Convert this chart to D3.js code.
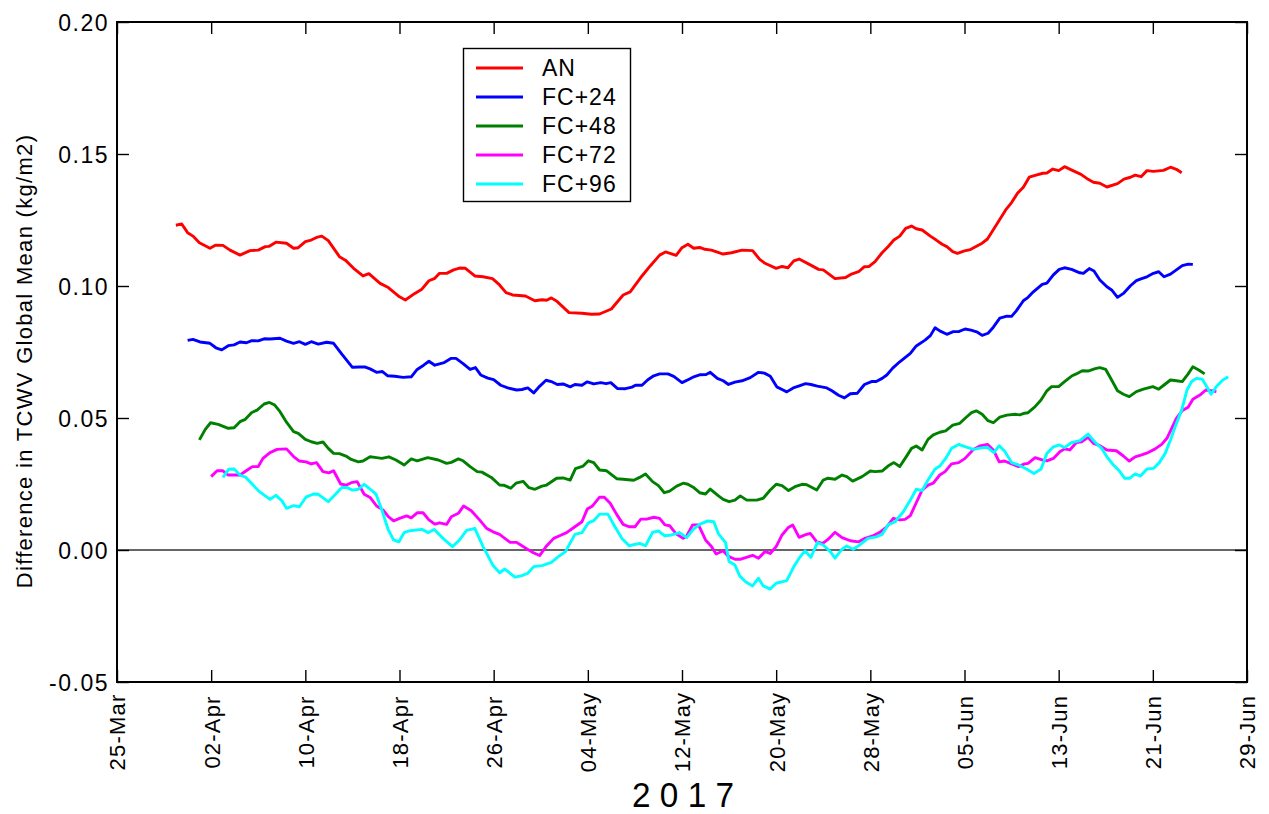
<!DOCTYPE html>
<html><head><meta charset="utf-8">
<script src="https://cdn.jsdelivr.net/npm/d3@7"></script>
<style>
html,body{margin:0;padding:0;background:#fff;}
svg{display:block;font-family:"Liberation Sans",Arial,sans-serif;}
</style></head><body>
<svg id="chart" width="1269" height="814"></svg>
<script>
// ---- data: [days since 2017-03-25, difference (kg/m2)] ----
const startDate = "2017-03-25";
const endDate = "2017-06-29";
const seriesNames = ["AN","FC+24","FC+48","FC+72","FC+96"];
const seriesColors = ["#ff0000","#0000ff","#008000","#ff00ff","#00ffff"];
const yTicks = [-0.05, 0.00, 0.05, 0.10, 0.15, 0.20];
const xTickLabels = ["25-Mar","02-Apr","10-Apr","18-Apr","26-Apr","04-May","12-May","20-May","28-May","05-Jun","13-Jun","21-Jun","29-Jun"];
const yearLabel = "2 0 1 7";
const yTitle = "Difference in TCWV Global Mean (kg/m2)";

const an = [[5.0,.1230],[5.5,.1235],[6.0,.1202],[6.45,.1189],[7.0,.1164],[7.9,.1143],[8.4,.1155],[9.0,.1154],[9.6,.1136],[10.45,.1117],[11.3,.1134],[12.0,.1136],[12.6,.1149],[12.9,.1150],[13.5,.1166],[14.4,.1162],[15.0,.1143],[15.4,.1145],[16.0,.1168],[16.5,.1174],[16.95,.1184],[17.4,.1189],[17.95,.1172],[18.9,.1111],[19.4,.1098],[20.1,.1067],[20.9,.1038],[21.4,.1047],[22.35,.1010],[23.05,.0994],[24.0,.0959],[24.5,.0947],[25.3,.0972],[25.9,.0988],[26.5,.1020],[27.0,.1029],[27.4,.1048],[28.0,.1048],[28.6,.1061],[29.1,.1068],[29.6,.1067],[30.4,.1038],[31.1,.1035],[31.9,.1028],[32.5,.1004],[33.05,.0975],[33.6,.0966],[34.7,.0962],[35.5,.0944],[36.1,.0948],[36.5,.0946],[36.9,.0955],[37.4,.0941],[38.4,.0899],[39.5,.0897],[40.3,.0893],[41.0,.0894],[42.0,.0913],[43.0,.0966],[43.6,.0978],[44.6,.1038],[45.3,.1076],[46.1,.1117],[46.6,.1129],[47.5,.1116],[48.0,.1145],[48.5,.1158],[49.0,.1143],[49.5,.1146],[49.95,.1139],[50.5,.1136],[51.5,.1121],[52.2,.1126],[53.1,.1136],[54.0,.1134],[54.6,.1101],[55.05,.1086],[56.0,.1067],[56.5,.1074],[57.0,.1069],[57.5,.1095],[57.95,.1102],[58.9,.1080],[59.6,.1063],[60.0,.1061],[61.0,.1028],[61.9,.1032],[62.4,.1045],[63.0,.1054],[63.5,.1073],[63.9,.1074],[64.4,.1092],[65.0,.1126],[65.5,.1149],[66.0,.1174],[66.5,.1189],[67.0,.1218],[67.5,.1227],[67.9,.1217],[68.4,.1212],[69.1,.1189],[69.6,.1174],[70.1,.1158],[70.5,.1149],[71.0,.1130],[71.4,.1124],[72.0,.1133],[72.5,.1138],[73.5,.1162],[73.95,.1178],[74.7,.1231],[75.5,.1288],[76.0,.1316],[76.5,.1351],[77.0,.1374],[77.5,.1412],[78.0,.1419],[78.65,.1427],[79.0,.1428],[79.5,.1443],[80.0,.1437],[80.5,.1452],[81.25,.1436],[81.9,.1423],[82.5,.1404],[82.95,.1393],[83.5,.1389],[84.1,.1375],[85.0,.1388],[85.55,.1405],[86.1,.1412],[86.5,.1420],[87.0,.1414],[87.5,.1437],[88.05,.1434],[88.9,.1438],[89.5,.1450],[90.0,.1442],[90.45,.1429]];

const fc24 = [[6.0,.0794],[6.45,.0798],[7.05,.0788],[7.9,.0783],[8.4,.0766],[8.9,.0758],[9.45,.0774],[9.95,.0777],[10.45,.0788],[11.0,.0785],[11.45,.0793],[12.0,.0792],[12.5,.0800],[13.0,.0799],[13.85,.0802],[14.4,.0791],[15.0,.0783],[15.5,.0789],[16.0,.0779],[16.5,.0789],[17.1,.0780],[17.8,.0787],[18.4,.0783],[19.1,.0742],[20.0,.0692],[20.6,.0693],[21.1,.0693],[21.5,.0686],[22.05,.0673],[22.55,.0676],[23.0,.0660],[23.6,.0658],[24.3,.0654],[25.0,.0656],[25.5,.0684],[26.05,.0700],[26.5,.0715],[27.0,.0700],[27.8,.0710],[28.4,.0726],[28.8,.0726],[29.4,.0706],[30.0,.0684],[30.45,.0691],[30.9,.0663],[31.5,.0651],[32.0,.0645],[32.6,.0624],[33.2,.0614],[33.95,.0606],[34.4,.0608],[34.9,.0614],[35.4,.0595],[35.9,.0620],[36.45,.0643],[36.9,.0638],[37.4,.0627],[37.9,.0629],[38.5,.0618],[38.9,.0627],[39.5,.0624],[39.95,.0637],[40.5,.0629],[41.1,.0634],[41.55,.0630],[41.95,.0634],[42.5,.0612],[43.2,.0611],[43.75,.0617],[44.05,.0624],[44.6,.0624],[45.1,.0645],[45.6,.0660],[46.1,.0667],[46.8,.0667],[47.3,.0658],[48.0,.0634],[48.6,.0647],[49.0,.0656],[49.55,.0664],[50.05,.0665],[50.4,.0673],[51.0,.0650],[51.5,.0641],[51.95,.0627],[52.5,.0636],[53.1,.0641],[53.8,.0653],[54.5,.0673],[55.0,.0670],[55.5,.0658],[56.05,.0618],[56.5,.0608],[56.9,.0599],[57.45,.0614],[57.9,.0621],[58.5,.0630],[58.95,.0627],[59.5,.0621],[60.3,.0614],[60.7,.0604],[61.3,.0586],[61.8,.0576],[62.3,.0592],[62.9,.0594],[63.5,.0627],[64.1,.0638],[64.5,.0638],[65.0,.0650],[65.4,.0663],[65.9,.0689],[66.5,.0713],[67.4,.0745],[67.9,.0773],[68.65,.0795],[69.1,.0812],[69.5,.0842],[69.9,.0830],[70.5,.0817],[71.05,.0827],[71.5,.0827],[72.05,.0837],[72.55,.0833],[73.1,.0825],[73.5,.0813],[74.0,.0821],[74.45,.0844],[75.0,.0878],[75.6,.0886],[76.0,.0885],[76.4,.0906],[77.0,.0944],[77.4,.0957],[77.85,.0978],[78.3,.0995],[78.6,.1006],[79.0,.1011],[79.55,.1042],[80.05,.1063],[80.5,.1069],[81.1,.1063],[81.8,.1050],[82.1,.1048],[82.6,.1066],[83.0,.1057],[83.5,.1023],[84.1,.0997],[84.5,.0985],[85.0,.0957],[85.5,.0972],[86.1,.1001],[86.6,.1020],[87.05,.1028],[87.5,.1035],[88.05,.1048],[88.5,.1054],[88.95,.1035],[89.5,.1045],[90.0,.1061],[90.5,.1077],[91.0,.1083],[91.4,.1082]];

const fc48 = [[7.0,.0417],[7.5,.0457],[7.95,.0482],[8.6,.0476],[9.45,.0461],[9.95,.0463],[10.45,.0486],[10.9,.0495],[11.45,.0521],[11.9,.0530],[12.5,.0553],[12.95,.0559],[13.4,.0549],[13.85,.0524],[14.4,.0484],[15.0,.0448],[15.4,.0442],[16.0,.0419],[16.5,.0410],[17.0,.0404],[17.5,.0409],[17.95,.0385],[18.4,.0366],[18.9,.0365],[19.45,.0356],[19.9,.0343],[20.5,.0334],[20.9,.0337],[21.5,.0353],[22.05,.0350],[22.5,.0347],[23.1,.0353],[23.7,.0341],[24.4,.0322],[25.0,.0345],[25.5,.0338],[26.4,.0350],[27.3,.0341],[28.0,.0328],[28.4,.0332],[29.0,.0345],[29.4,.0338],[30.0,.0316],[30.6,.0297],[31.0,.0295],[31.8,.0275],[32.5,.0246],[32.9,.0245],[33.45,.0234],[33.9,.0253],[34.5,.0260],[35.0,.0236],[35.5,.0230],[36.1,.0242],[36.5,.0246],[37.35,.0272],[37.9,.0273],[38.5,.0265],[38.95,.0308],[39.6,.0318],[40.05,.0338],[40.5,.0331],[41.0,.0303],[41.6,.0300],[42.45,.0270],[43.0,.0268],[43.9,.0264],[44.4,.0275],[44.9,.0288],[45.5,.0259],[46.0,.0244],[46.5,.0217],[46.95,.0223],[47.55,.0242],[48.1,.0253],[48.5,.0249],[48.95,.0238],[49.5,.0217],[50.0,.0212],[50.4,.0231],[51.1,.0205],[51.5,.0192],[52.0,.0183],[52.5,.0189],[52.95,.0205],[53.5,.0189],[54.35,.0189],[54.9,.0196],[55.5,.0227],[56.0,.0249],[56.5,.0244],[57.05,.0225],[57.6,.0240],[58.2,.0249],[58.6,.0247],[59.45,.0227],[60.0,.0265],[60.4,.0272],[61.0,.0268],[61.6,.0284],[62.0,.0278],[62.5,.0261],[63.3,.0278],[64.0,.0299],[64.4,.0297],[65.0,.0299],[65.5,.0318],[66.0,.0331],[66.5,.0316],[67.0,.0350],[67.5,.0385],[67.9,.0394],[68.4,.0379],[68.9,.0419],[69.35,.0436],[69.9,.0446],[70.4,.0451],[71.0,.0473],[71.6,.0480],[72.1,.0501],[72.6,.0520],[73.0,.0527],[73.5,.0514],[74.0,.0490],[74.45,.0482],[75.0,.0503],[75.6,.0511],[76.3,.0514],[76.7,.0512],[77.1,.0518],[77.4,.0520],[78.0,.0543],[78.5,.0568],[79.0,.0603],[79.4,.0619],[80.0,.0619],[80.5,.0638],[81.1,.0659],[81.5,.0667],[82.0,.0679],[82.5,.0678],[83.1,.0687],[83.5,.0691],[84.0,.0684],[84.5,.0644],[85.0,.0603],[85.5,.0590],[86.0,.0581],[86.6,.0600],[87.2,.0609],[88.0,.0619],[88.5,.0609],[88.95,.0625],[89.5,.0644],[90.0,.0641],[90.5,.0638],[91.0,.0667],[91.4,.0694],[91.9,.0682],[92.4,.0667]];

const fc72 = [[8.0,.0278],[8.5,.0300],[9.0,.0300],[9.45,.0284],[10.45,.0284],[10.95,.0299],[11.5,.0316],[12.0,.0316],[12.4,.0347],[13.0,.0369],[13.6,.0381],[14.4,.0383],[15.0,.0354],[15.5,.0337],[16.05,.0334],[16.5,.0326],[16.95,.0331],[17.5,.0297],[18.0,.0292],[18.4,.0300],[19.0,.0250],[19.5,.0246],[19.9,.0255],[20.4,.0259],[21.0,.0211],[21.5,.0199],[22.05,.0167],[22.6,.0152],[23.05,.0126],[23.5,.0110],[24.0,.0120],[24.6,.0129],[25.0,.0122],[25.5,.0141],[26.0,.0141],[26.5,.0114],[27.0,.0098],[27.4,.0103],[28.0,.0097],[28.4,.0126],[29.0,.0139],[29.45,.0167],[30.1,.0149],[30.8,.0114],[31.4,.0082],[31.95,.0069],[32.5,.0059],[33.4,.0029],[33.95,.0029],[34.5,.0013],[35.3,-.0009],[35.9,-.0021],[36.45,.0013],[37.1,.0044],[37.6,.0054],[38.2,.0066],[38.9,.0088],[39.5,.0107],[39.95,.0155],[40.4,.0167],[41.0,.0200],[41.4,.0200],[41.9,.0177],[42.45,.0135],[43.0,.0097],[43.5,.0088],[44.0,.0088],[44.5,.0117],[45.0,.0117],[45.6,.0124],[46.1,.0120],[46.55,.0095],[46.95,.0092],[47.5,.0061],[48.1,.0044],[48.4,.0053],[48.9,.0095],[49.4,.0095],[50.0,.0038],[50.5,.0013],[50.9,-.0015],[51.5,-.0003],[51.9,-.0023],[52.5,-.0035],[53.0,-.0035],[54.0,-.0020],[54.5,-.0031],[55.05,-.0006],[55.5,-.0013],[56.0,.0013],[56.5,.0057],[57.0,.0084],[57.4,.0095],[57.95,.0048],[58.45,.0057],[58.9,.0063],[59.45,.0031],[59.95,.0025],[60.4,.0040],[61.0,.0067],[61.6,.0047],[62.3,.0035],[63.0,.0031],[63.55,.0044],[64.2,.0053],[64.8,.0067],[65.4,.0088],[65.95,.0120],[66.5,.0114],[66.95,.0116],[67.4,.0130],[67.9,.0179],[68.4,.0227],[68.9,.0246],[69.35,.0253],[69.9,.0284],[70.35,.0297],[70.9,.0326],[71.5,.0331],[72.05,.0347],[72.75,.0381],[73.3,.0394],[73.95,.0400],[74.45,.0379],[74.95,.0334],[75.4,.0337],[76.0,.0326],[76.6,.0316],[77.1,.0326],[77.4,.0328],[78.0,.0350],[78.6,.0341],[79.0,.0338],[79.55,.0347],[80.1,.0372],[80.5,.0383],[80.95,.0379],[81.5,.0407],[81.95,.0410],[82.5,.0427],[82.95,.0404],[83.5,.0395],[84.1,.0379],[84.9,.0376],[85.5,.0356],[86.0,.0337],[86.5,.0353],[87.05,.0360],[87.6,.0369],[88.2,.0383],[88.75,.0400],[89.2,.0423],[89.6,.0461],[90.0,.0499],[90.5,.0528],[91.0,.0541],[91.4,.0571],[92.0,.0587],[92.5,.0606],[92.95,.0603],[93.4,.0600]];

const fc96 = [[9.0,.0275],[9.5,.0306],[9.95,.0307],[10.45,.0284],[10.95,.0275],[11.5,.0249],[12.1,.0221],[13.0,.0192],[13.5,.0207],[14.0,.0187],[14.4,.0158],[15.0,.0168],[15.5,.0164],[16.05,.0200],[16.7,.0212],[17.1,.0211],[17.95,.0183],[18.5,.0208],[19.1,.0237],[19.5,.0237],[20.0,.0227],[20.5,.0230],[21.0,.0249],[21.5,.0231],[22.0,.0212],[22.5,.0152],[23.05,.0076],[23.5,.0038],[23.95,.0031],[24.4,.0066],[24.9,.0073],[25.9,.0078],[26.45,.0066],[26.95,.0078],[27.7,.0044],[28.5,.0013],[29.1,.0038],[29.7,.0074],[30.4,.0082],[31.1,.0013],[31.95,-.0059],[32.5,-.0086],[32.95,-.0072],[33.8,-.0103],[34.4,-.0097],[34.9,-.0088],[35.4,-.0063],[36.1,-.0059],[36.9,-.0047],[37.5,-.0025],[38.1,-.0006],[38.9,.0059],[39.5,.0066],[40.05,.0103],[40.5,.0111],[41.0,.0136],[41.7,.0136],[42.3,.0088],[42.9,.0044],[43.5,.0016],[44.4,.0025],[44.9,.0016],[45.5,.0067],[46.0,.0072],[46.5,.0054],[47.1,.0057],[47.8,.0066],[48.4,.0047],[48.95,.0078],[49.5,.0097],[50.2,.0110],[50.7,.0107],[51.1,.0061],[51.7,.0028],[52.0,-.0044],[52.5,-.0057],[52.9,-.0098],[53.4,-.0120],[54.0,-.0136],[54.5,-.0107],[54.9,-.0136],[55.5,-.0148],[56.0,-.0126],[56.9,-.0116],[57.5,-.0063],[57.95,-.0031],[58.45,-.0003],[58.95,-.0028],[59.5,.0028],[60.0,.0019],[60.6,-.0006],[61.0,-.0031],[61.6,.0003],[62.0,.0015],[62.55,.0003],[63.1,.0019],[63.8,.0044],[64.5,.0050],[65.0,.0059],[65.5,.0095],[66.1,.0107],[66.8,.0145],[67.4,.0189],[67.9,.0230],[68.4,.0225],[68.9,.0265],[69.5,.0307],[69.9,.0318],[70.4,.0347],[70.9,.0385],[71.5,.0400],[72.1,.0391],[72.75,.0381],[73.3,.0386],[73.95,.0389],[74.5,.0369],[74.95,.0395],[75.4,.0375],[76.0,.0331],[76.6,.0322],[77.3,.0306],[77.9,.0290],[78.5,.0307],[79.0,.0366],[79.55,.0391],[80.05,.0398],[80.5,.0388],[81.1,.0407],[81.8,.0414],[82.5,.0439],[83.1,.0408],[83.65,.0385],[84.1,.0353],[84.65,.0322],[85.15,.0300],[85.6,.0272],[86.05,.0272],[86.5,.0288],[86.95,.0280],[87.5,.0307],[88.05,.0309],[88.55,.0331],[89.05,.0366],[89.5,.0417],[89.95,.0473],[90.45,.0530],[90.9,.0606],[91.3,.0638],[91.7,.0650],[92.2,.0647],[92.5,.0625],[92.95,.0590],[93.4,.0619],[93.95,.0644],[94.4,.0656]];

const allSeries = [an, fc24, fc48, fc72, fc96];

// ---- drawing ----
const m = {left:117, right:1247, top:22, bottom:682};
const svg = d3.select("#chart");
const FONT = "'Liberation Sans', Arial, sans-serif";
const parse = d3.timeParse("%Y-%m-%d");
const t0 = parse(startDate), t1 = parse(endDate);
const toDate = d => d3.timeMinute.offset(t0, Math.round(d*1440));

const x = d3.scaleTime().domain([t0, t1]).range([m.left, m.right]);
const y = d3.scaleLinear().domain([-0.05, 0.20]).range([m.bottom, m.top]);
const xTickDates = xTickLabels.map((_, i) => d3.timeDay.offset(t0, 8*i));
const yFmt = d => d3.format(".2f")(d).replace("\u2212", "-");

// zero line
svg.append("line").attr("x1", m.left).attr("x2", m.right)
  .attr("y1", y(0)).attr("y2", y(0))
  .attr("stroke", "#333").attr("stroke-width", 1.7);

// series lines
const line = d3.line().x(d => x(toDate(d[0]))).y(d => y(d[1]));
allSeries.forEach((s, i) => {
  svg.append("path").datum(s).attr("d", line)
    .attr("fill", "none").attr("stroke", seriesColors[i])
    .attr("stroke-width", 2.9).attr("stroke-linejoin", "round");
});

// axes (ticks inward)
const axStyle = g => {
  g.select(".domain").remove();
  g.selectAll(".tick line").attr("stroke", "#000").attr("stroke-width", 1.4);
};
const bottom = svg.append("g").attr("transform", `translate(0,${m.bottom})`)
  .call(d3.axisBottom(x).tickValues(xTickDates).tickSize(-12).tickFormat((d,i) => xTickLabels[i]))
  .call(axStyle);
bottom.selectAll(".tick text")
  .attr("transform", "rotate(-90)")
  .attr("text-anchor", "middle")
  .attr("x", -50).attr("y", 0).attr("dy", "0.36em")
  .attr("font-size", 22).attr("letter-spacing", 1.2).attr("fill", "#000")
  .attr("font-family", FONT);

svg.append("g").attr("transform", `translate(0,${m.top})`)
  .call(d3.axisTop(x).tickValues(xTickDates).tickSize(-12).tickFormat(""))
  .call(axStyle);

const left = svg.append("g").attr("transform", `translate(${m.left},0)`)
  .call(d3.axisLeft(y).tickValues(yTicks).tickSize(-12).tickFormat(yFmt))
  .call(axStyle);
left.selectAll(".tick text").attr("x", -8).attr("dy", "0.36em")
  .attr("font-size", 23).attr("letter-spacing", 1.5).attr("fill", "#000")
  .attr("font-family", FONT);

svg.append("g").attr("transform", `translate(${m.right},0)`)
  .call(d3.axisRight(y).tickValues(yTicks).tickSize(-12).tickFormat(""))
  .call(axStyle);

// frame
svg.append("rect").attr("x", m.left).attr("y", m.top)
  .attr("width", m.right - m.left).attr("height", m.bottom - m.top)
  .attr("fill", "none").attr("stroke", "#000").attr("stroke-width", 2);

// titles
svg.append("text").attr("x", 683).attr("y", 807).attr("text-anchor", "middle")
  .attr("font-size", 35).attr("textLength", 102).attr("lengthAdjust", "spacingAndGlyphs")
  .attr("fill", "#000").text(yearLabel);
svg.append("text").attr("transform", "translate(32,361) rotate(-90)")
  .attr("text-anchor", "middle").attr("font-size", 22).attr("letter-spacing", 1.3)
  .attr("fill", "#000").text(yTitle);

// legend
const lg = svg.append("g");
lg.append("rect").attr("x", 463.5).attr("y", 48.5).attr("width", 167).attr("height", 153)
  .attr("fill", "#fff").attr("stroke", "#000").attr("stroke-width", 1.4);
seriesNames.forEach((n, i) => {
  const yy = 68 + i * 29;
  lg.append("line").attr("x1", 476).attr("x2", 523).attr("y1", yy).attr("y2", yy)
    .attr("stroke", seriesColors[i]).attr("stroke-width", 2.9);
  lg.append("text").attr("x", 542).attr("y", yy).attr("dy", "0.36em")
    .attr("font-size", 23).attr("letter-spacing", 1).attr("fill", "#000").text(n);
});
</script>
</body></html>
